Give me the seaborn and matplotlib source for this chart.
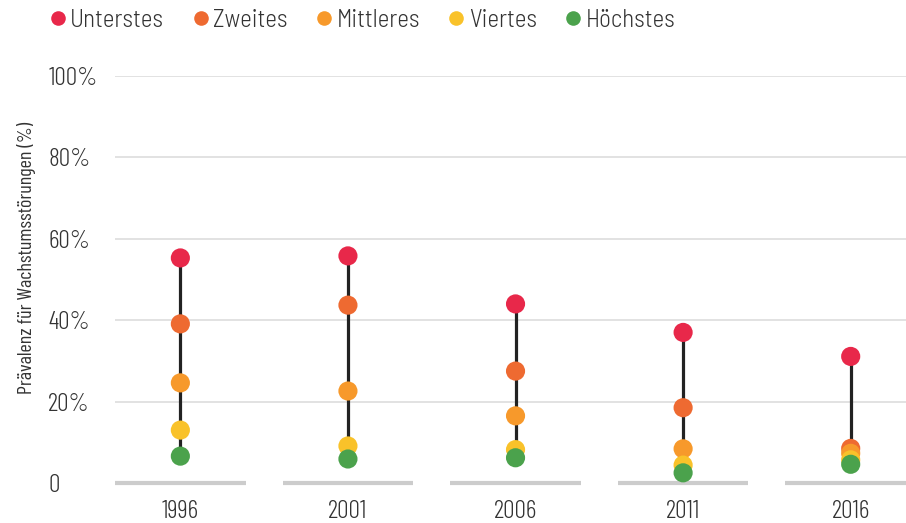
import matplotlib
matplotlib.use("Agg")
import matplotlib.pyplot as plt
import pandas as pd
import seaborn as sns
from matplotlib.lines import Line2D
from matplotlib import font_manager as fm

years = ["1996", "2001", "2006", "2011", "2016"]
groups = ["Unterstes", "Zweites", "Mittleres", "Viertes", "Höchstes"]
unterstes = [55.3, 55.8, 44.0, 37.0, 31.1]
zweites = [39.1, 43.7, 27.5, 18.5, 8.5]
mittleres = [24.6, 22.6, 16.5, 8.4, 7.3]
viertes = [13.0, 9.1, 8.2, 4.4, 5.7]
hoechstes = [6.6, 5.9, 6.2, 2.5, 4.6]
colors = ["#E8284A", "#EE6A31", "#F7992B", "#F9C22A", "#4BA24C"]
yticks = [0, 20, 40, 60, 80, 100]
ytick_labels = ["0", "20%", "40%", "60%", "80%", "100%"]

series = [unterstes, zweites, mittleres, viertes, hoechstes]
rows = []
for g, vals in zip(groups, series):
    for i, v in enumerate(vals):
        rows.append({"x": i, "year": years[i], "group": g, "value": v})
df = pd.DataFrame(rows)

sns.set_theme(style="white")
# condensed light face if present, otherwise smaller DejaVu
names = {f.name for f in fm.fontManager.ttflist}
if "Barlow Condensed" in names:
    plt.rcParams["font.family"] = ["Barlow Condensed", "DejaVu Sans"]
    plt.rcParams["font.weight"] = 300
    tick_fs, leg_fs, lab_fs = 18.5, 18, 14.5
    leg_family = ["Barlow Semi Condensed", "Barlow Condensed", "DejaVu Sans"] \
        if "Barlow Semi Condensed" in names else ["Barlow Condensed", "DejaVu Sans"]
else:
    plt.rcParams["font.family"] = ["DejaVu Sans"]
    tick_fs, leg_fs, lab_fs = 13, 12, 10
    leg_family = ["DejaVu Sans"]
text_color = "#333333"

fig = plt.figure(figsize=(9.06, 5.23), dpi=100)
ax = fig.add_axes([115 / 906, 40 / 523, 791 / 906, 407 / 523])

# gridlines (without the zero line)
for t in yticks[1:]:
    ax.axhline(t, color="#dddddd", lw=1.2, zorder=0)

# baseline segments per year
for i in range(len(years)):
    ax.hlines(0, i - 0.39, i + 0.39, color="#cccccc", lw=3, zorder=1, clip_on=False)

# range lines
lows = [min(s[i] for s in series) for i in range(len(years))]
highs = [max(s[i] for s in series) for i in range(len(years))]
ax.vlines(range(len(years)), lows, highs, color="#222222", lw=2.3, zorder=2)

# draw lowest group first so upper ones sit on top
sns.scatterplot(data=df, x="x", y="value", hue="group", hue_order=groups[::-1],
                palette=dict(zip(groups, colors)), s=190, linewidth=0,
                zorder=3, clip_on=False, legend=False, ax=ax)

ax.set_xlim(-0.39, 4.33)
ax.set_ylim(0, 100)
ax.set_xticks(range(len(years)))
ax.set_xticklabels(years)
ax.set_yticks(yticks)
ax.set_yticklabels(ytick_labels)
ax.tick_params(axis="x", length=0, pad=12, labelsize=tick_fs, labelcolor=text_color)
ax.tick_params(axis="y", length=0, pad=48, labelsize=tick_fs, labelcolor=text_color)
for lab in ax.get_yticklabels():
    lab.set_horizontalalignment("left")
ax.set_xlabel("")
ax.set_ylabel("Prävalenz für Wachstumsstörungen (%)", fontsize=lab_fs, color=text_color)
ax.yaxis.set_label_coords(-0.100, 0.553)
for sp in ax.spines.values():
    sp.set_visible(False)

handles = [Line2D([0], [0], marker="o", ls="", markersize=10.5, markerfacecolor=c,
                  markeredgewidth=0) for c in colors]
leg = fig.legend(handles, groups, loc="upper left", bbox_to_anchor=(0.028, 1.026), ncol=5,
                 frameon=False, prop={"family": leg_family, "size": leg_fs, "weight": 300},
                 handletextpad=0.1, columnspacing=1.05, handlelength=0.8)
for t in leg.get_texts():
    t.set_color(text_color)

fig.savefig("out.png", dpi=100)
